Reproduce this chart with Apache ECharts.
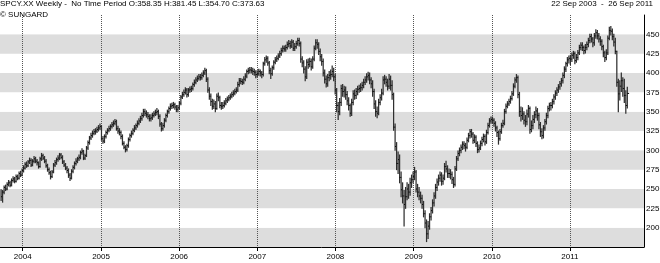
<!DOCTYPE html>
<html><head><meta charset="utf-8">
<script src="https://cdn.jsdelivr.net/npm/echarts@6/dist/echarts.min.js"></script>
<style>html,body{margin:0;padding:0;background:#fff}#c{width:660px;height:263px}</style>
</head><body><div id="c"></div>
<script>
// weekly bars, first week starting 22 Sep 2003
const firstWeek = [2003, 8, 22];
const closes = [
240,246,252,250,256,258,255,261,263,260,
266,264,270,268,274,277,282,280,285,287,
281,286,289,286,284,279,289,293,290,286,
280,275,271,266,272,281,284,288,290,294,
291,285,281,277,274,268,264,273,278,283,
286,289,291,297,299,290,293,303,310,316,
319,322,324,325,327,329,331,315,312,318,
323,326,328,331,333,335,337,328,325,323,
318,309,304,301,306,314,319,322,326,329,
332,335,338,341,345,350,348,346,344,341,
342,345,347,349,350,344,334,328,332,339,
345,350,354,357,358,359,356,353,355,361,
369,372,375,378,372,378,379,380,385,388,
391,393,395,394,397,400,403,392,378,370,
363,357,360,354,370,368,358,357,358,361,
364,366,368,370,372,374,376,378,385,390,
389,388,392,396,402,403,404,403,402,401,
398,399,402,400,398,412,417,419,413,403,
399,407,414,417,419,422,425,429,432,431,
433,437,438,435,440,432,434,438,442,438,
418,413,405,395,414,411,415,408,418,432,
439,437,428,421,415,400,392,386,394,397,
398,402,395,378,358,350,362,380,376,378,
372,364,358,348,362,373,371,376,379,380,
381,384,388,391,395,397,391,386,376,360,
350,348,362,368,374,391,392,388,383,392,
384,372,330,305,283,288,265,249,241,230,
240,250,246,258,262,266,272,250,246,241,
238,230,218,206,192,202,214,222,232,241,
252,259,264,268,260,264,279,276,270,270,
269,262,256,276,289,296,300,304,308,306,
304,313,319,324,321,313,317,309,301,303,
309,314,318,311,323,332,338,340,339,335,
329,323,315,324,332,335,350,357,360,363,
367,373,383,391,394,372,350,345,347,339,
337,347,354,327,332,340,346,351,345,333,
324,319,329,337,345,354,358,358,363,369,
374,378,382,386,390,397,405,412,417,419,
418,423,425,416,420,426,433,436,433,429,
433,437,442,447,444,439,448,452,448,444,
441,434,426,420,426,445,455,454,447,440,
428,388,373,383,390,380,371,358,373.63];
const highs = [
249,248,254,255,258,261,260,263,266,265,
268,268,272,273,276,280,284,285,287,290,
289,288,292,291,288,285,291,296,295,292,
288,282,277,273,274,283,287,290,293,296,
296,293,287,283,279,276,270,275,280,285,
289,291,294,299,302,300,295,305,312,318,
322,325,327,328,330,332,334,332,318,320,
325,328,331,333,336,338,340,339,331,328,
325,320,311,306,308,316,321,325,328,332,
334,338,341,344,348,353,353,351,349,346,
346,348,350,352,354,352,346,336,335,341,
347,352,356,360,361,362,361,358,358,363,
371,375,378,381,380,380,382,383,387,391,
394,396,398,398,400,403,406,405,394,381,
373,366,365,363,373,374,370,362,362,364,
367,369,371,373,375,377,379,381,388,393,
393,392,395,399,404,406,407,407,406,405,
403,403,405,404,402,414,420,422,421,415,
406,409,416,420,422,425,428,432,435,435,
436,440,442,441,443,442,438,441,445,445,
440,421,416,408,417,418,419,418,421,435,
443,443,439,431,424,418,404,396,398,402,
404,409,406,398,380,362,367,384,385,383,
382,376,368,360,366,377,378,380,383,384,
386,388,392,395,399,401,400,394,390,379,
364,356,366,372,379,395,397,395,392,398,
396,390,374,334,310,298,294,272,258,248,
252,258,256,264,268,272,278,274,256,252,
246,242,234,222,210,208,218,226,236,245,
256,263,268,272,271,268,283,286,280,276,
275,272,265,279,292,299,303,307,311,311,
309,316,322,327,327,323,320,319,311,307,
312,317,321,320,326,335,341,343,343,341,
337,331,325,327,335,339,353,360,363,366,
370,376,386,394,398,396,375,356,355,350,
345,352,358,356,338,345,350,356,354,348,
336,328,332,340,348,357,361,362,366,372,
377,381,385,389,393,400,408,414,420,422,
423,426,428,427,424,429,436,439,439,435,
437,440,445,450,450,446,451,456,455,451,
447,443,436,428,430,448,459,460,457,450,
445,428,392,390,400,394,392,377,381.45];
const lows = [
235,233,244,248,249,254,253,254,259,258,
259,262,263,266,267,272,276,278,279,283,
279,280,284,284,281,277,278,287,288,284,
278,273,269,263,265,271,279,282,286,288,
289,283,279,275,271,265,261,263,271,276,
281,284,287,289,295,288,288,292,301,308,
314,317,320,321,323,325,327,313,309,310,
316,321,324,326,329,331,333,326,322,320,
315,307,302,298,299,304,312,317,320,324,
327,330,333,336,339,343,345,343,341,338,
338,340,343,345,346,341,331,325,326,330,
337,343,348,352,354,355,353,350,350,353,
359,367,370,373,369,370,375,376,378,383,
386,389,391,391,392,395,398,389,375,366,
358,353,354,350,353,364,355,353,354,356,
359,362,364,366,368,370,372,374,376,383,
386,385,386,390,394,399,400,400,398,397,
394,395,397,396,394,396,410,414,410,399,
393,397,405,412,415,417,420,423,427,428,
428,431,434,432,433,429,429,432,436,435,
414,408,400,390,393,406,408,404,406,416,
430,432,424,416,410,396,387,382,383,390,
392,395,390,373,350,340,346,358,370,369,
366,359,352,344,345,359,366,367,372,375,
376,378,381,385,388,391,386,381,370,354,
344,342,346,359,365,372,386,383,378,380,
378,366,326,300,275,270,258,240,232,202,
225,236,238,242,252,258,262,246,240,236,
232,225,214,200,182,186,198,210,219,228,
238,248,255,260,255,256,262,272,265,265,
263,257,252,254,274,287,293,297,301,302,
299,302,311,316,317,309,310,305,297,298,
301,306,311,307,309,321,330,335,335,331,
325,318,308,313,322,330,333,348,355,358,
361,365,371,381,388,368,344,338,340,334,
331,333,343,322,324,328,336,342,339,328,
318,315,316,326,334,342,351,352,355,360,
366,371,375,379,383,387,394,402,409,413,
411,415,419,412,414,417,424,430,429,425,
426,430,434,439,440,434,436,445,444,440,
436,430,421,415,417,424,443,449,443,435,
425,383,350,365,376,370,362,348,354.70];

const DAY = 86400000;
const weeks = closes.map((_, i) => Date.UTC(firstWeek[0], firstWeek[1], firstWeek[2]) + i * 7 * DAY);
const rows = weeks.map((t, i) => [t, highs[i], lows[i], closes[i]]);

const titleText = 'SPCY.XX Weekly -  No Time Period O:358.35 H:381.45 L:354.70 C:373.63';
const rangeText = '22 Sep 2003  -  26 Sep 2011';
const sourceText = '\u00A9 SUNGARD';
const FONT = 'Liberation Sans, Arial, sans-serif';

const chart = echarts.init(document.getElementById('c'), null, {renderer: 'canvas'});
chart.setOption({
  animation: false,
  useUTC: true,
  backgroundColor: '#fff',
  title: [
    {text: titleText, left: 0, top: 0, padding: 0, textStyle: {fontSize: 8, fontWeight: 'normal', color: '#000', fontFamily: FONT}},
    {text: sourceText, left: 0, top: 11, padding: 0, textStyle: {fontSize: 8, fontWeight: 'normal', color: '#000', fontFamily: FONT}},
    {text: rangeText, right: 7, top: 0, padding: 0, textStyle: {fontSize: 8, fontWeight: 'normal', color: '#000', fontFamily: FONT}}
  ],
  grid: {left: -55.4, right: 16, top: 15, bottom: 16, containLabel: false, outerBoundsMode: 'none'},
  xAxis: {
    type: 'time',
    min: Date.UTC(2003, 0, 1),
    max: Date.UTC(2011, 11, 13),
    splitNumber: 9,
    minInterval: 360 * DAY,
    axisLine: {show: true, lineStyle: {color: '#000', width: 1}},
    axisTick: {show: true, length: 4, lineStyle: {color: '#000'}},
    axisLabel: {
      fontSize: 8, color: '#000', fontFamily: FONT, margin: 6,
      formatter: v => { const d = new Date(v); return (d.getUTCMonth() === 0 && d.getUTCDate() === 1) ? String(d.getUTCFullYear()) : ''; }
    },
    splitLine: {show: true, lineStyle: {type: 'dotted', color: '#555', width: 1}},
    splitArea: {show: false}
  },
  yAxis: {
    type: 'value',
    position: 'right',
    min: 175, max: 475, interval: 25,
    axisLine: {show: true, lineStyle: {color: '#000', width: 1}},
    axisTick: {show: false},
    axisLabel: {
      fontSize: 8, color: '#000', fontFamily: FONT, margin: 2,
      formatter: v => (v === 175 || v === 475) ? '' : String(v)
    },
    splitLine: {show: false},
    splitArea: {show: true, areaStyle: {color: ['#dddddd', '#ffffff']}}
  },
  series: [{
    type: 'custom',
    data: rows,
    encode: {x: 0, y: [1, 2, 3]},
    renderItem: (params, api) => {
      const t = api.value(0);
      const hi = api.coord([t, api.value(1)]);
      const lo = api.coord([t, api.value(2)]);
      const cl = api.coord([t, api.value(3)]);
      return {type: 'group', children: [
        {type: 'line', shape: {x1: hi[0], y1: hi[1] - 0.5, x2: lo[0], y2: lo[1] + 0.5}, style: {stroke: '#303030', lineWidth: 1.25}},
        {type: 'line', shape: {x1: cl[0], y1: cl[1], x2: cl[0] + 1.8, y2: cl[1]}, style: {stroke: '#000', lineWidth: 1}}
      ]};
    }
  }]
});
</script>
</body></html>
